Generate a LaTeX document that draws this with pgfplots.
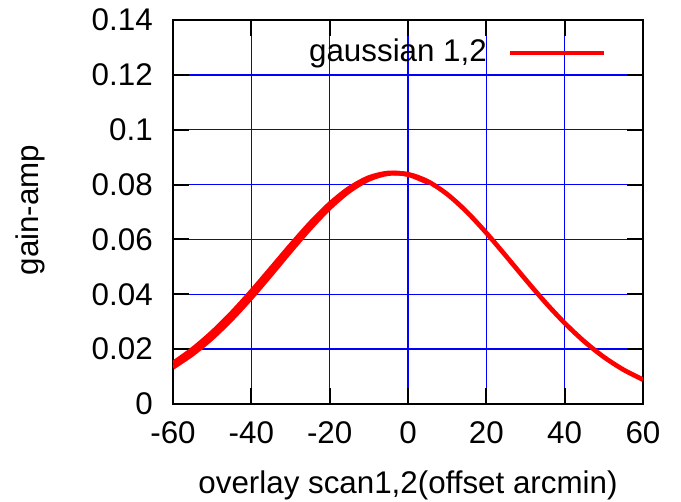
\documentclass[border=0pt]{standalone}
\usepackage{fontspec}
\setmainfont{Liberation Sans}
\usepackage{pgfplots}
\pgfplotsset{compat=1.18}
\begin{document}
\fontsize{23.5pt}{28pt}\selectfont
\begin{tikzpicture}
\path[use as bounding box] (-129.75pt,-73.5pt) rectangle (381pt,303pt);
\begin{axis}[
  scale only axis,
  width=352.5pt, height=288pt,
  xmin=-60, xmax=60, ymin=0, ymax=0.14,
  xtick={-60,-40,-20,0,20,40,60},
  xticklabels={-60,-40,-20,0,20,40,60},
  ytick={0,0.02,0.04,0.06,0.08,0.1,0.12,0.14},
  yticklabels={0,0.02,0.04,0.06,0.08,0.1,0.12,0.14},
  tick align=inside,
  major tick length=12pt,
  tick style={black, line width=1.5pt},
  axis line style={black, line width=2pt},
  grid=major,
  major grid style={blue, line width=1.1pt},
  xticklabel style={font=\fontsize{23.5pt}{28pt}\selectfont, inner sep=0pt, anchor=north, yshift=-13pt},
  yticklabel style={font=\fontsize{23.5pt}{28pt}\selectfont, inner sep=0pt, anchor=east, xshift=-15pt},
  xlabel={overlay scan1,2(offset arcmin)},
  ylabel={gain-amp},
  xlabel style={font=\fontsize{23.5pt}{28pt}\selectfont, at={(axis description cs:0.5,-0.211)}, anchor=center},
  ylabel style={font=\fontsize{23.5pt}{28pt}\selectfont, at={(axis description cs:-0.304,0.505)}, anchor=center},
  legend plot pos=right,
  legend style={draw=none, fill=none, inner sep=0pt, outer sep=0pt,
    font=\fontsize{23.5pt}{28pt}\selectfont,
    at={(axis cs:50.6,0.1281)}, anchor=east},
  legend image code/.code={\draw[red, line width=3pt] (0pt,0pt) -- (70.5pt,0pt);},
]
\addplot[red, line width=3.5pt, smooth] coordinates {
(-60,0.01336) (-55,0.01819) (-50,0.02407) (-45,0.03098) (-40,0.03875)
(-35,0.04713) (-30,0.05570) (-25,0.06400) (-20,0.07148) (-15,0.07760)
(-10,0.08189) (-5,0.08401) (0,0.08377) (5,0.08120)
(10,0.07650) (15,0.07007) (20,0.06238) (25,0.05399) (30,0.04542)
(35,0.03714) (40,0.02952) (45,0.02281) (50,0.01713) (55,0.01251) (60,0.00887)
};
\addlegendentry{gaussian 1,2\rule{14pt}{0pt}}
\addplot[red, line width=3.5pt, smooth, forget plot] coordinates {
(-60,0.01492) (-55,0.02003) (-50,0.02616) (-45,0.03324) (-40,0.04110)
(-35,0.04944) (-30,0.05786) (-25,0.06589) (-20,0.07300) (-15,0.07869)
(-10,0.08255) (-5,0.08423) (0,0.08363) (5,0.08079)
};
\end{axis}
\end{tikzpicture}
\end{document}
